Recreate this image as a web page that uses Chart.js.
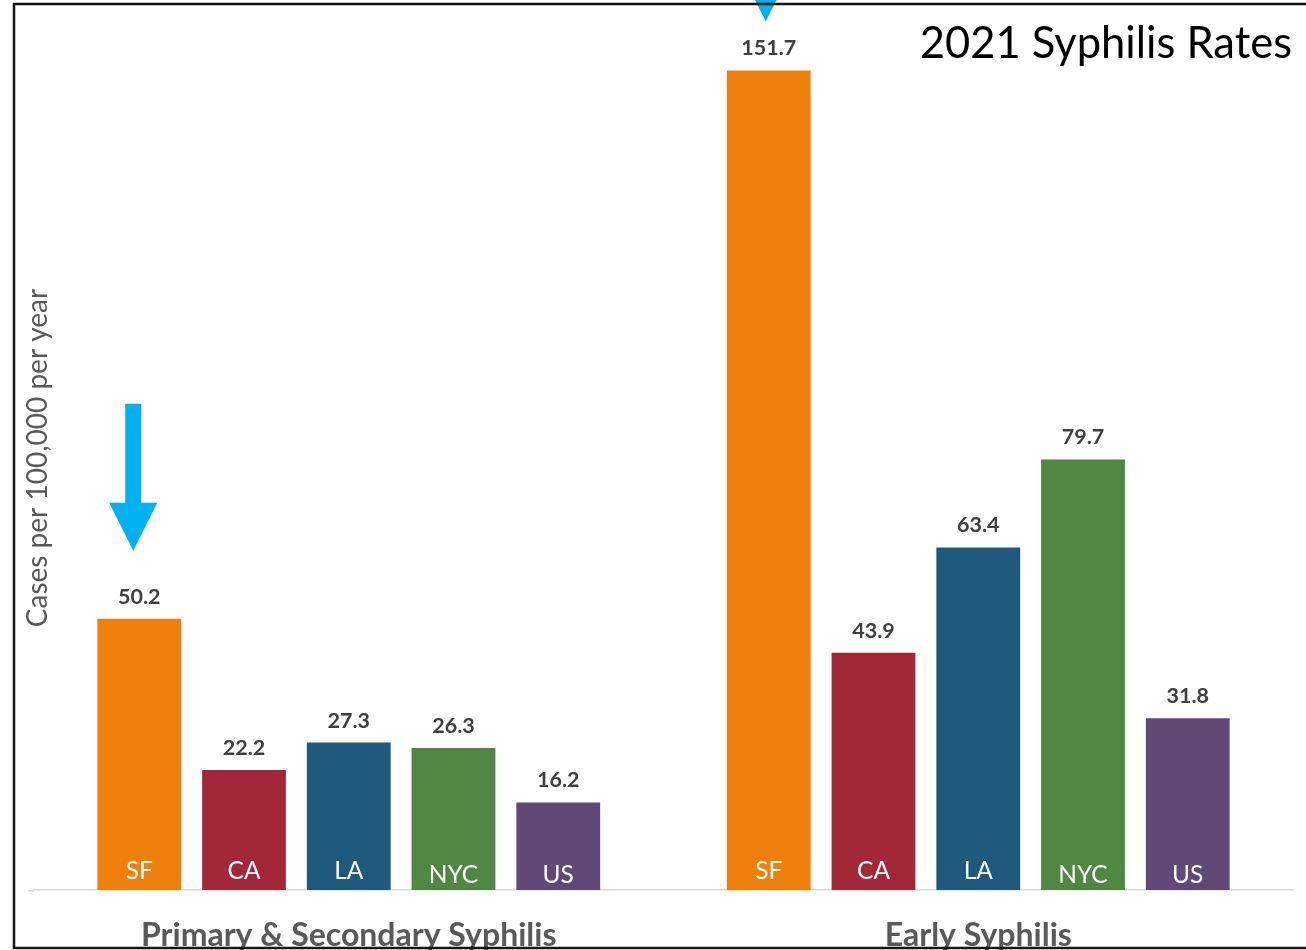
<!DOCTYPE html>
<html>
<head>
<meta charset="utf-8">
<script src="https://cdn.jsdelivr.net/npm/chart.js@4/dist/chart.umd.min.js"></script>
<style>
  html, body { margin: 0; padding: 0; background: #fff; }
  #wrap { position: relative; width: 1306px; height: 950px; }
</style>
</head>
<body>
<div id="wrap"><canvas id="rates-chart"></canvas></div>
<script>
// 2021 syphilis rates, cases per 100,000 per year
const categories = ["Primary & Secondary Syphilis", "Early Syphilis"]
const places = ["SF", "CA", "LA", "NYC", "US"]
const primarySecondary = [50.2, 22.2, 27.3, 26.3, 16.2]
const earlySyphilis = [151.7, 43.9, 63.4, 79.7, 31.8]

const placeColors = ["#EE800B", "#A22839", "#1F597C", "#4F8743", "#604877"]
// small vertical nudge of the in-bar place names
const nameDrop = [0, 0, 0, 4, 4]

// blue arrows pointing at the SF bars
const arrows = [
  { index: 0, gap: 68, dx: -6 },
  { index: 1, gap: 49, dx: -3 },
]

const FONT = "Lato, 'Open Sans', sans-serif"

const ratesCanvas = document.getElementById("rates-chart")

const ratesData = {
  labels: categories,
  datasets: places.map((place, i) => ({
    label: place,
    data: [primarySecondary[i], earlySyphilis[i]],
    backgroundColor: placeColors[i],
    borderWidth: 0,
    categoryPercentage: 0.832,
    barPercentage: 0.8,
  })),
}

const barTextPlugin = {
  id: "barText",
  afterDatasetsDraw(chart) {
    const ctx = chart.ctx
    ctx.save()
    ctx.textAlign = "center"
    chart.data.datasets.forEach((dataset, di) => {
      const meta = chart.getDatasetMeta(di)
      meta.data.forEach((bar, i) => {
        // value above the bar
        ctx.font = `bold 21.5px ${FONT}`
        ctx.fillStyle = "#404040"
        ctx.textBaseline = "alphabetic"
        ctx.fillText(dataset.data[i].toFixed(1), bar.x, bar.y - 15)
        // place name inside the bar, near the base
        ctx.font = `24.5px ${FONT}`
        ctx.fillStyle = "#ffffff"
        ctx.fillText(dataset.label, bar.x, bar.base - 11 + nameDrop[di])
      })
    })
    ctx.restore()
  },
}

const decorPlugin = {
  id: "decor",
  afterDraw(chart) {
    const ctx = chart.ctx
    const area = chart.chartArea
    ctx.save()

    // baseline runs a little past the left of the plot area
    ctx.strokeStyle = "#D9D9D9"
    ctx.lineWidth = 1.5
    ctx.beginPath()
    ctx.moveTo(28, area.bottom + 0.75)
    ctx.lineTo(area.left, area.bottom + 0.75)
    ctx.stroke()

    // arrows
    const sfMeta = chart.getDatasetMeta(0)
    ctx.fillStyle = "#00B0F0"
    arrows.forEach((a) => {
      const bar = sfMeta.data[a.index]
      const cx = bar.x + a.dx
      const tip = bar.y - a.gap
      const headH = 48
      const headW = 48
      const shaftW = 16
      const len = 147
      ctx.beginPath()
      ctx.moveTo(cx - shaftW / 2, tip - len)
      ctx.lineTo(cx + shaftW / 2, tip - len)
      ctx.lineTo(cx + shaftW / 2, tip - headH)
      ctx.lineTo(cx + headW / 2, tip - headH)
      ctx.lineTo(cx, tip)
      ctx.lineTo(cx - headW / 2, tip - headH)
      ctx.lineTo(cx - shaftW / 2, tip - headH)
      ctx.closePath()
      ctx.fill()
    })

    // y axis caption
    ctx.save()
    ctx.translate(38, 458)
    ctx.rotate(-Math.PI / 2)
    ctx.font = `28px ${FONT}`
    ctx.fillStyle = "#595959"
    ctx.textAlign = "center"
    ctx.textBaseline = "middle"
    ctx.fillText("Cases per 100,000 per year", 0, 0)
    ctx.restore()

    // title
    ctx.font = `43.5px ${FONT}`
    ctx.fillStyle = "#000000"
    ctx.textAlign = "right"
    ctx.textBaseline = "alphabetic"
    ctx.fillText("2021 Syphilis Rates", 1292, 58)

    // frame
    ctx.strokeStyle = "#151515"
    ctx.lineWidth = 2.5
    ctx.beginPath()
    ctx.moveTo(1310, 4)
    ctx.lineTo(14, 4)
    ctx.lineTo(14, 948)
    ctx.lineTo(1310, 948)
    ctx.stroke()
    ctx.restore()
  },
}

const ratesOptions = {
  responsive: true,
  maintainAspectRatio: false,
  animation: false,
  layout: {
    padding: { left: 34, right: 13, top: 4, bottom: 0 },
  },
  scales: {
    x: {
      grid: { display: false, drawTicks: false },
      border: { display: true, color: "#D9D9D9", width: 1.5 },
      ticks: {
        color: "#595959",
        font: { family: FONT, size: 32, weight: "bold" },
        padding: 26,
        maxRotation: 0,
      },
      afterFit(scale) {
        scale.height = 60
      },
    },
    y: {
      display: false,
      min: 0,
      max: 164,
    },
  },
  plugins: {
    legend: { display: false },
    tooltip: { enabled: false },
  },
}

let ratesChart = new Chart(ratesCanvas, {
  type: "bar",
  data: ratesData,
  options: ratesOptions,
  plugins: [barTextPlugin, decorPlugin],
})
</script>
</body>
</html>
